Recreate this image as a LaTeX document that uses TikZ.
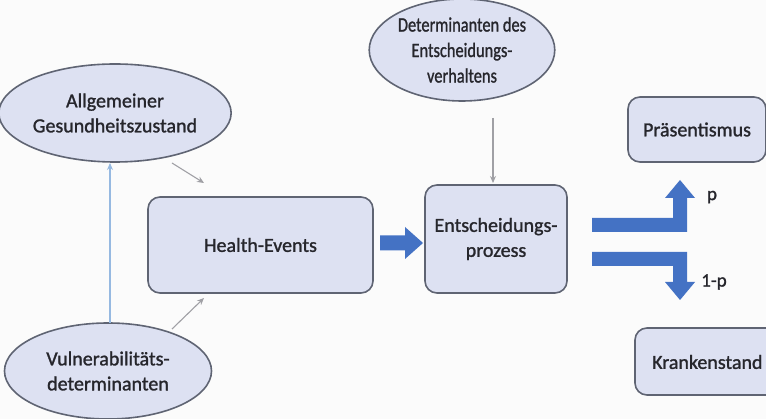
\documentclass[tikz,border=0pt]{standalone}
\usepackage{fontspec}
\setmainfont{Carlito}
\newfontfamily\semib{Carlito}[FakeBold=1.3]
\usetikzlibrary{arrows.meta,shapes.geometric}
\definecolor{boxfill}{RGB}{221,225,242}
\definecolor{boxdraw}{RGB}{95,100,115}
\definecolor{bluearr}{RGB}{68,114,196}
\definecolor{lightarr}{RGB}{150,185,225}
\definecolor{grayarr}{RGB}{160,160,165}
\definecolor{txt}{RGB}{38,38,44}
\tikzset{
  x=1pt, y=-1pt,
  ell/.style={ellipse, draw=boxdraw, fill=boxfill, line width=1.6pt, inner sep=0pt, text=txt, align=center,
    font=\semib\fontsize{20}{25}\selectfont},
  rbox/.style={rectangle, rounded corners=12pt, draw=boxdraw, fill=boxfill, line width=1.6pt, inner sep=0pt, text=txt, align=center,
    font=\semib\fontsize{20}{25}\selectfont},
  thin arrow/.style={draw=grayarr, line width=1.1pt, -{Stealth[length=7pt,width=6pt]}},
  lbl/.style={text=txt, font=\semib\fontsize{19}{22}\selectfont, inner sep=0pt},
}
\begin{document}
\begin{tikzpicture}
\clip (0,0) rectangle (766,419);
\fill[white!97!gray] (0,0) rectangle (766,419);
% ellipses
\node[ell, minimum width=206pt, minimum height=98pt] (allg) at (115,113) {Allgemeiner\\Gesundheitszustand};
\node[ell, minimum width=150pt, minimum height=102pt] (det) at (462,50) {\raisebox{5pt}{\scalebox{0.82}[1.02]{\parbox{160pt}{\centering Determinanten des\\Entscheidungs-\\verhaltens}}}};
\node[ell, minimum width=207pt, minimum height=96pt] (vul) at (108,371) {Vulnerabilitäts-\\determinanten};
% boxes
\node[rbox, minimum width=225pt, minimum height=96pt] (he) at (260.5,245) {Health-Events};
\node[rbox, minimum width=142pt, minimum height=108pt] (ent) at (496,239) {Entscheidungs-\\prozess};
\node[rbox, minimum width=138pt, minimum height=65pt] (pra) at (697,129.5) {Präsentismus};
\node[rbox, minimum width=150pt, minimum height=67pt] (kra) at (710,361.5) {};
\node[text=txt, font=\semib\fontsize{20}{25}\selectfont, anchor=west, inner sep=0pt] (kratxt) at (652,362) {Krankenstand};
% thin arrows
\coordinate (a1s) at (172,163); \coordinate (a1e) at (204,183);
\coordinate (a2s) at (172,329); \coordinate (a2e) at (204,298);
\coordinate (a3s) at (493,118); \coordinate (a3e) at (493,183);
\coordinate (a4s) at (110,323); \coordinate (a4e) at (110,163);
\draw[thin arrow] (a1s) -- (a1e);
\draw[thin arrow] (a2s) -- (a2e);
\draw[thin arrow] (a3s) -- (a3e);
\draw[draw=lightarr, line width=1.1pt, -{Stealth[length=7pt,width=6pt]}] (a4s) -- (a4e);
% big arrow Health -> Entscheidung
\fill[bluearr] (380,235.5) -- (405,235.5) -- (405,227) -- (423,243) -- (405,259) -- (405,250.5) -- (380,250.5) -- cycle;
% bent arrow up
\fill[bluearr] (592,218) -- (673,218) -- (673,198) -- (665,198) -- (680,180) -- (695,198) -- (687,198) -- (687,232) -- (592,232) -- cycle;
% bent arrow down
\fill[bluearr] (592,252) -- (687,252) -- (687,282) -- (695,282) -- (680,300) -- (665,282) -- (673,282) -- (673,266) -- (592,266) -- cycle;
\node[lbl] (p) at (712,197) {p};
\node[lbl] (q) at (714,282) {1-p};
\end{tikzpicture}
\end{document}
